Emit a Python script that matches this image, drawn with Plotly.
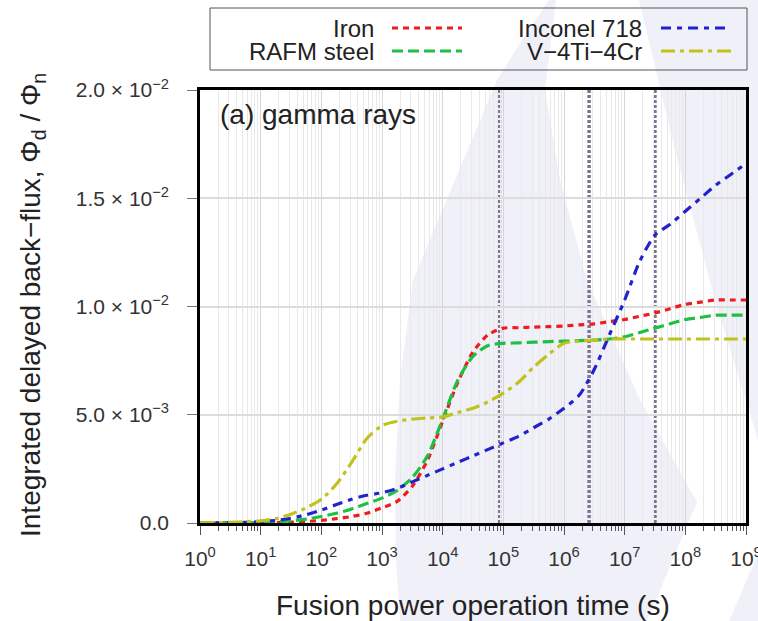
import plotly.graph_objects as go

# Fusion power operation time (s), quarter-decade grid from 1 s to 1e9 s
TIME_S = [1, 1.778, 3.162, 5.623,
          10, 17.78, 31.62, 56.23,
          100, 177.8, 316.2, 562.3,
          1e3, 1778, 3162, 5623,
          1e4, 17783, 31623, 56234,
          1e5, 177828, 316228, 562341,
          1e6, 1.778e6, 3.162e6, 5.623e6,
          1e7, 1.778e7, 3.162e7, 5.623e7,
          1e8, 1.778e8, 3.162e8, 5.623e8,
          1e9]

# Integrated delayed back-flux ratio (gamma rays)
IRON = [0, 0, 0.000003, 0.000006,
        0.00001, 0.00002, 0.00004, 0.00007,
        0.00012, 0.0002, 0.0003, 0.00045,
        0.0007, 0.0010, 0.0017, 0.0029,
        0.0047, 0.0065, 0.0079, 0.0087,
        0.0090, 0.00902, 0.00905, 0.00907,
        0.0091, 0.00915, 0.0092, 0.0093,
        0.0094, 0.00955, 0.0097, 0.0099,
        0.0101, 0.0102, 0.0103, 0.0103,
        0.0103]
RAFM = [0, 0.000002, 0.000005, 0.00001,
        0.00002, 0.00005, 0.0001, 0.00018,
        0.0003, 0.00045, 0.00065, 0.0009,
        0.00115, 0.0015, 0.0021, 0.0031,
        0.0048, 0.0066, 0.0077, 0.0082,
        0.0083, 0.00832, 0.00835, 0.00838,
        0.0084, 0.00842, 0.00845, 0.0085,
        0.0086, 0.0088, 0.0090, 0.0092,
        0.0094, 0.0095, 0.0096, 0.0096,
        0.0096]
INCONEL = [0, 0.000003, 0.00001, 0.00003,
           0.00006, 0.00012, 0.00022, 0.00038,
           0.0006, 0.00085, 0.0011, 0.00128,
           0.0014, 0.0016, 0.0019, 0.0022,
           0.0025, 0.0028, 0.0031, 0.0034,
           0.0037, 0.0040, 0.0044, 0.0048,
           0.0053, 0.0059, 0.0071, 0.0087,
           0.0103, 0.0121, 0.0133, 0.0138,
           0.0144, 0.0150, 0.0156, 0.0161,
           0.0166]
VTICR = [0.00001, 0.00002, 0.00003, 0.00006,
         0.0001, 0.0002, 0.0004, 0.0007,
         0.0011, 0.0018, 0.0028, 0.0039,
         0.0045, 0.0047, 0.0048, 0.00485,
         0.0049, 0.0051, 0.0053, 0.0056,
         0.0060, 0.0065, 0.0072, 0.0078,
         0.0083, 0.0084, 0.00845, 0.0085,
         0.0085, 0.0085, 0.0085, 0.0085,
         0.0085, 0.0085, 0.0085, 0.0085,
         0.0085]

SERIES_NAMES = ["Iron", "RAFM steel", "Inconel 718", "V\u22124Ti\u22124Cr"]
SERIES_VALUES = [IRON, RAFM, INCONEL, VTICR]
SERIES_COLORS = ["#ee1c1c", "#1fbf45", "#2222cc", "#c2c21e"]
SERIES_DASHES = ["6px,5px", "11px,5px", "10px,6px,5px,6px", "14px,5px,4px,5px"]

# Reference times: one day, one month, one year
MARK_TIMES = [86400, 2.592e6, 3.15576e7]
MARK_LABELS = ["1 dy", "1 mo", "1 yr"]
MARK_LABEL_Y = [0.0140, 0.01755, 0.0060]

X_TICKS = [10 ** k for k in range(10)]
X_TICKTEXT = ["10<sup>%d</sup>" % k for k in range(10)]
Y_TICKS = [0, 0.005, 0.010, 0.015, 0.020]
Y_TICKTEXT = ["0.0", "5.0 \u00d7 10<sup>\u22123</sup>", "1.0 \u00d7 10<sup>\u22122</sup>",
              "1.5 \u00d7 10<sup>\u22122</sup>", "2.0 \u00d7 10<sup>\u22122</sup>"]

FONT = "Liberation Sans, Arial, Helvetica, sans-serif"
W, H = 758, 621
L, R, T, B = 200, 12, 90, 98
PW, PH = W - L - R, H - T - B


def px(x):
    return (x - L) / PW


def py(y):
    return (H - B - y) / PH


def path(points):
    return "M " + " L ".join("%.4f,%.4f" % (px(x), py(y)) for x, y in points) + " Z"


fig = go.Figure()

for name, vals, col, dash in zip(SERIES_NAMES, SERIES_VALUES, SERIES_COLORS, SERIES_DASHES):
    fig.add_trace(go.Scatter(
        x=TIME_S, y=vals, name=name, mode="lines",
        line=dict(color=col, width=3.2, dash=dash, shape="spline", smoothing=0.7),
        cliponaxis=True, showlegend=False,
    ))

# faint background watermark strokes
WM = "#f0f0f8"
for pts in [
    [(549, 0), (522, 40), (497, 80), (455, 180), (413, 280), (400, 380), (395, 480),
     (396, 560), (400, 621), (647, 621), (697, 502), (640, 400), (587, 280),
     (560, 180), (545, 90), (556, 0)],
    [(639, 0), (758, 0), (758, 440), (715, 300), (675, 150)],
    [(729, 621), (758, 554), (758, 621)],
]:
    fig.add_shape(type="path", path=path(pts), xref="paper", yref="paper",
                  fillcolor=WM, line=dict(width=0), layer="below")

for t, lab, ly in zip(MARK_TIMES, MARK_LABELS, MARK_LABEL_Y):
    fig.add_shape(type="line", xref="x", yref="paper", x0=t, x1=t, y0=0, y1=1,
                  line=dict(color="#7f7392", width=3.5, dash="3px,2px"), layer="between")
    fig.add_annotation(x=t, y=ly, xref="x", yref="y", text=lab, showarrow=False,
                       xanchor="left", yanchor="middle", xshift=4,
                       font=dict(family=FONT, size=20, color="#555555"))

fig.add_annotation(x=px(218), y=py(115), xref="paper", yref="paper", text="(a) gamma rays",
                   showarrow=False, xanchor="left", yanchor="middle",
                   font=dict(family=FONT, size=28, color="#222222"))

# legend box: text to the left of each line sample
fig.add_shape(type="rect", xref="paper", yref="paper",
              x0=px(210), x1=px(747), y0=py(70), y1=py(8),
              line=dict(color="#555555", width=1), fillcolor="rgba(0,0,0,0)")
legend_slots = [(376, 392, 462, 28), (376, 392, 462, 51), (644, 661, 731, 28), (644, 661, 731, 51)]
for (tx, lx0, lx1, ly), name, col, dash in zip(legend_slots, SERIES_NAMES, SERIES_COLORS, SERIES_DASHES):
    fig.add_annotation(x=px(tx), y=py(ly), xref="paper", yref="paper", text=name,
                       showarrow=False, xanchor="right", yanchor="middle",
                       font=dict(family=FONT, size=24, color="#222222"))
    fig.add_shape(type="line", xref="paper", yref="paper",
                  x0=px(lx0), x1=px(lx1), y0=py(ly), y1=py(ly),
                  line=dict(color=col, width=3.2, dash=dash))

# axis titles
fig.add_annotation(x=px(473), y=py(605), xref="paper", yref="paper",
                   text="Fusion power operation time (s)", showarrow=False,
                   xanchor="center", yanchor="middle",
                   font=dict(family=FONT, size=28, color="#222222"))
fig.add_annotation(x=px(32), y=py(305), xref="paper", yref="paper", textangle=-90,
                   text="Integrated delayed back\u2212flux, \u03a6<sub>d</sub> / \u03a6<sub>n</sub>",
                   showarrow=False, xanchor="center", yanchor="middle",
                   font=dict(family=FONT, size=28, color="#222222"))

MINOR_X = [m * 10 ** k for k in range(9) for m in range(2, 10)]

fig.update_xaxes(
    type="log", range=[0, 9], tickvals=X_TICKS, ticktext=X_TICKTEXT,
    tickfont=dict(family=FONT, size=21, color="#333333"),
    ticks="outside", ticklen=9, tickwidth=1, tickcolor="#555555",
    showline=True, linecolor="black", linewidth=2.5, mirror=True,
    showgrid=True, gridcolor="#d6d6d6", gridwidth=1, zeroline=False,
    ticklabelstandoff=6, ticklabeloverflow="allow",
    minor=dict(tickvals=MINOR_X, ticks="outside", ticklen=5, tickwidth=1,
               tickcolor="#555555", showgrid=True, gridcolor="#e9e9e9", gridwidth=1),
)
fig.update_yaxes(
    range=[0, 0.02], tickvals=Y_TICKS, ticktext=Y_TICKTEXT,
    tickfont=dict(family=FONT, size=21, color="#333333"),
    ticks="outside", ticklen=10, tickwidth=1, tickcolor="#777777",
    showline=True, linecolor="black", linewidth=2.5, mirror=True,
    showgrid=True, gridcolor="#dcdcdc", gridwidth=1.5, zeroline=False,
    ticklabelstandoff=14, ticklabeloverflow="allow",
)
fig.update_layout(
    width=W, height=H, margin=dict(l=L, r=R, t=T, b=B, autoexpand=False),
    paper_bgcolor="white", plot_bgcolor="white", showlegend=False,
    font=dict(family=FONT, color="#222222"),
)

fig.write_html("out.html")
